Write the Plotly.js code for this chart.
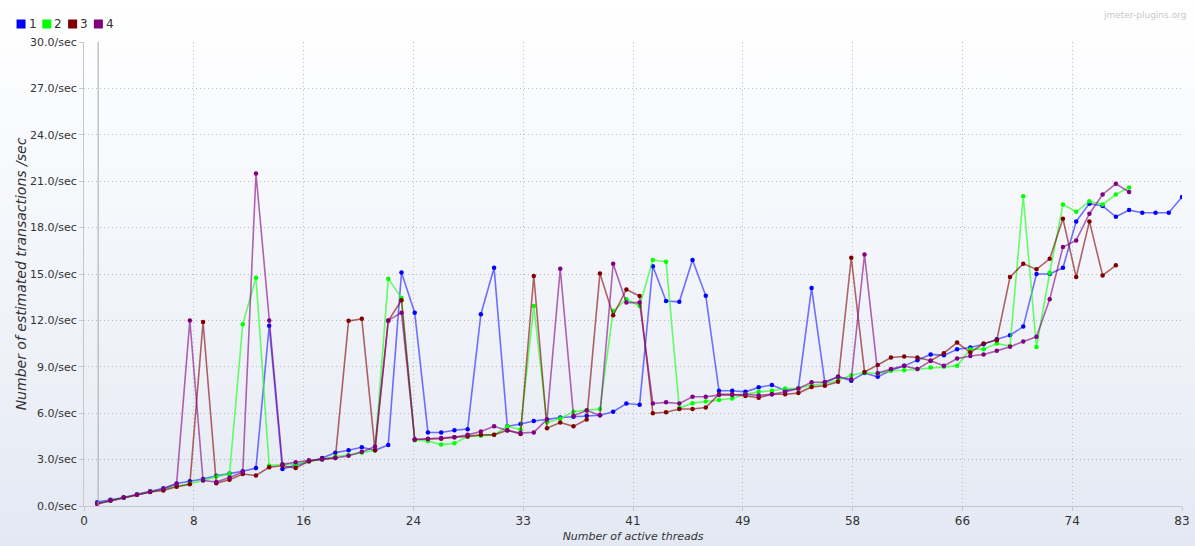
<!DOCTYPE html>
<html>
<head>
<meta charset="utf-8">
<script src="https://cdn.plot.ly/plotly-3.0.1.min.js"></script>
<style>
  html, body { margin: 0; padding: 0; }
  body {
    width: 1195px; height: 546px; overflow: hidden;
    background: linear-gradient(to bottom, #ffffff 0%, #f6f8fc 35%, #edf0f7 70%, #e3e8f3 100%);
  }
  #chart { width: 1195px; height: 546px; }
</style>
</head>
<body>
<div id="chart"></div>
<script>
// ---- data ----
const threads = [1,2,3,4,5,6,7,8,9,10,11,12,13,14,15,16,17,18,19,20,21,22,23,24,25,26,27,28,29,30,
  31,32,33,34,35,36,37,38,39,40,41,42,43,44,45,46,47,48,49,50,51,52,53,54,55,56,57,58,59,60,
  61,62,63,64,65,66,67,68,69,70,71,72,73,74,75,76,77,78,79,80,81,82,83];

const seriesNames = ['1', '2', '3', '4'];
const seriesColors = ['#0000ff', '#00ff00', '#800000', '#800080'];
const lineColors = ['rgba(40,40,255,0.65)', 'rgba(40,255,40,0.7)', 'rgba(128,0,0,0.6)', 'rgba(128,0,128,0.6)'];

const tps1 = [0.25,0.4,0.55,0.75,0.95,1.15,1.45,1.6,1.75,1.95,
  2.1,2.25,2.45,11.65,2.4,2.65,2.9,3.1,3.45,3.6,
  3.8,3.6,3.95,15.1,12.5,4.75,4.75,4.9,4.97,12.4,
  15.4,5.15,5.3,5.5,5.6,5.72,5.77,5.84,5.87,6.1,
  6.63,6.55,15.5,13.25,13.2,15.9,13.6,7.45,7.45,7.38,
  7.67,7.82,7.48,7.6,14.1,8.0,8.35,8.1,8.6,8.35,
  8.78,9.06,9.43,9.8,9.74,10.14,10.25,10.46,10.78,11.04,
  11.6,15.0,15.0,15.4,18.4,19.55,19.4,18.7,19.13,18.96,
  18.96,18.96,19.98];

const tps2 = [0.15,0.35,0.55,0.75,0.93,1.1,1.26,1.45,1.65,1.9,
  2.07,11.75,14.76,2.6,2.7,2.7,2.9,3.0,3.2,3.3,
  3.45,3.6,14.7,13.45,4.25,4.2,3.97,4.05,4.5,4.55,
  4.6,5.15,4.95,12.93,5.4,5.66,6.09,6.2,6.27,12.6,
  13.37,12.93,15.9,15.8,6.33,6.65,6.76,6.85,6.95,7.23,
  7.38,7.45,7.6,7.6,7.82,7.9,8.13,8.45,8.63,8.57,
  8.74,8.78,8.85,8.95,9.0,9.06,10.14,10.14,10.5,10.35,
  20.03,10.28,15.08,19.5,19.02,19.7,19.5,20.14,20.6];

const tps3 = [0.15,0.35,0.55,0.72,0.9,1.0,1.25,1.4,11.9,1.47,
  1.7,2.07,1.97,2.5,2.6,2.45,2.9,3.05,3.1,11.97,
  12.1,3.6,11.97,13.3,4.3,4.33,4.35,4.45,4.5,4.6,
  4.6,4.9,4.65,14.87,5.03,5.4,5.15,5.6,15.04,12.33,
  14.0,13.57,6.0,6.06,6.27,6.27,6.37,7.23,7.23,7.12,
  7.0,7.23,7.23,7.3,7.7,7.77,8.03,16.05,8.67,9.12,
  9.6,9.67,9.6,9.39,9.88,10.57,9.92,10.5,10.72,14.8,
  15.67,15.3,15.98,18.57,14.8,18.4,14.91,15.56];

const tps4 = [0.15,0.35,0.55,0.75,0.93,1.1,1.43,12.0,1.65,1.55,
  1.85,2.2,21.5,12.0,2.7,2.83,2.95,3.0,3.1,3.25,
  3.5,3.85,12.0,12.5,4.3,4.35,4.4,4.45,4.6,4.82,
  5.15,4.88,4.72,4.76,5.6,15.34,5.84,6.17,5.87,15.66,
  13.15,13.15,6.63,6.7,6.63,7.06,7.06,7.17,7.17,7.23,
  7.15,7.23,7.38,7.6,8.0,8.0,8.35,8.2,16.26,8.59,
  8.85,9.06,8.85,9.39,9.06,9.53,9.7,9.8,10.03,10.3,
  10.63,10.94,13.37,16.74,17.17,18.9,20.14,20.83,20.3];

const xTickVals = [0, 8.3, 16.6, 24.9, 33.2, 41.5, 49.8, 58.1, 66.4, 74.7, 83];
const xTickLabels = ['0', '8', '16', '24', '33', '41', '49', '58', '66', '74', '83'];
const yTickVals = [0, 3, 6, 9, 12, 15, 18, 21, 24, 27, 30];
const yTickLabels = ['0.0/sec', '3.0/sec', '6.0/sec', '9.0/sec', '12.0/sec', '15.0/sec',
  '18.0/sec', '21.0/sec', '24.0/sec', '27.0/sec', '30.0/sec'];

const allSeries = [tps1, tps2, tps3, tps4];

// ---- traces ----
const traces = allSeries.map((vals, i) => ({
  type: 'scatter',
  mode: 'lines+markers',
  name: seriesNames[i],
  x: threads.slice(0, vals.length),
  y: vals,
  line: { color: lineColors[i], width: 1.6 },
  marker: { color: seriesColors[i], size: 4.5 },
  showlegend: false,
  hoverinfo: 'x+y+name'
}));

// ---- geometry helpers (pixels -> paper) ----
const M = { l: 83.5, r: 12.6, t: 42, b: 40 };
const W = 1195 - M.l - M.r, H = 546 - M.t - M.b;
const px = p => (p - M.l) / W;
const py = p => (546 - M.b - p) / H;

// custom legend (squares + labels)
const shapes = [];
const annotations = [];
seriesNames.forEach((nm, i) => {
  const cx = 20.5 + 25.8 * i;
  shapes.push({
    type: 'rect', xref: 'paper', yref: 'paper',
    xsizemode: 'pixel', ysizemode: 'pixel',
    xanchor: px(cx), yanchor: py(24),
    x0: -4.5, x1: 4.5, y0: -4.5, y1: 4.5,
    fillcolor: seriesColors[i], line: { width: 0 }
  });
  annotations.push({
    xref: 'paper', yref: 'paper', x: px(cx + 5.5), y: py(24),
    xanchor: 'left', yanchor: 'middle', showarrow: false,
    text: nm, font: { family: 'DejaVu Sans', size: 12, color: '#333333' }
  });
});

// vertical reference line near x=1
shapes.push({
  type: 'line', xref: 'x', yref: 'paper', x0: 1.07, x1: 1.07, y0: 0, y1: 1,
  line: { color: '#a8a8a8', width: 1 }
});

annotations.push({
  xref: 'paper', yref: 'paper', x: px(1188), y: py(15),
  xanchor: 'right', yanchor: 'middle', showarrow: false,
  text: 'jmeter-plugins.org',
  font: { family: 'DejaVu Sans', size: 9, color: '#c8c8c8' }
});

const layout = {
  width: 1195, height: 546,
  margin: M,
  paper_bgcolor: 'rgba(0,0,0,0)',
  plot_bgcolor: 'rgba(0,0,0,0)',
  font: { family: 'DejaVu Sans', size: 11, color: '#333333' },
  showlegend: false,
  xaxis: {
    range: [0, 83],
    tickmode: 'array', tickvals: xTickVals, ticktext: xTickLabels,
    showgrid: true, gridcolor: '#bcbcbc', griddash: '1px,3px', gridwidth: 1,
    showline: true, linecolor: '#c8c8c8', linewidth: 1,
    zeroline: false,
    ticks: 'outside', ticklen: 4, tickcolor: '#c8c8c8',
    tickfont: { family: 'DejaVu Sans', size: 12, color: '#333333' },
    title: { text: 'Number of active threads', standoff: 4,
             font: { family: 'DejaVu Sans', size: 11, color: '#333333', style: 'italic' } }
  },
  yaxis: {
    range: [0, 30],
    tickmode: 'array', tickvals: yTickVals, ticktext: yTickLabels,
    showgrid: true, gridcolor: '#bcbcbc', griddash: '1px,3px', gridwidth: 1,
    showline: true, linecolor: '#c8c8c8', linewidth: 1,
    zeroline: false,
    ticks: 'outside', ticklen: 4, tickcolor: '#c8c8c8',
    tickfont: { family: 'DejaVu Sans', size: 11, color: '#333333' },
    title: { text: 'Number of estimated transactions /sec', standoff: 0,
             font: { family: 'DejaVu Sans', size: 14, color: '#333333', style: 'italic' } }
  },
  shapes: shapes,
  annotations: annotations
};

Plotly.newPlot('chart', traces, layout, { displayModeBar: false, staticPlot: true });
</script>
</body>
</html>
